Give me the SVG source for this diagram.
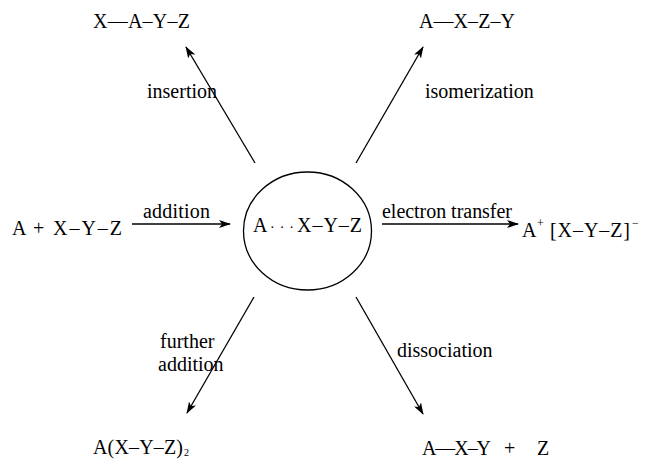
<svg xmlns="http://www.w3.org/2000/svg" width="645" height="460" viewBox="0 0 645 460" font-family="Liberation Serif, Times New Roman, DejaVu Serif, serif">
<style>
text{font-family:'Liberation Serif','Times New Roman','DejaVu Serif',serif;font-size:20px;fill:#000}
.sm{font-size:12px}
.ln{stroke:#000;stroke-width:1.3;fill:none}
</style>
<defs>
<marker id="ah" viewBox="0 0 12 8" refX="11" refY="4" markerWidth="12" markerHeight="8" markerUnits="userSpaceOnUse" orient="auto">
<path d="M0,0 L12,4 L0,8 L3,4 Z" fill="#000"/>
</marker>
</defs>
<rect width="645" height="460" fill="#fff"/>
<g id="connectors">
<line class="ln" x1="132" y1="224" x2="230" y2="224" marker-end="url(#ah)"/>
<line class="ln" x1="382" y1="224" x2="518" y2="224" marker-end="url(#ah)"/>
<line class="ln" x1="255" y1="163" x2="186" y2="47" marker-end="url(#ah)"/>
<line class="ln" x1="356" y1="163" x2="423" y2="47" marker-end="url(#ah)"/>
<line class="ln" x1="254" y1="297" x2="187" y2="413" marker-end="url(#ah)"/>
<line class="ln" x1="356" y1="297" x2="423" y2="414" marker-end="url(#ah)"/>
<text x="143" y="218" textLength="67">addition</text>
<text x="382" y="218" textLength="130">electron transfer</text>
<text x="147" y="98">insertion</text>
<text x="425" y="98">isomerization</text>
<text x="160" y="348">further</text>
<text x="158" y="371">addition</text>
<text x="397" y="357">dissociation</text>
</g>
<g id="center">
<ellipse cx="307.5" cy="231" rx="64" ry="59" class="ln"/>
<text x="253" y="232">A</text>
<text x="270" y="232" textLength="24" style="font-size:14px">· · ·</text>
<text x="297" y="232" textLength="65">X–Y–Z</text>
</g>
<g id="reactants">
<text x="12" y="235">A</text>
<text x="33" y="235">+</text>
<text x="53" y="235" textLength="69">X–Y–Z</text>
</g>
<g id="insertion-product">
<text x="93" y="28" textLength="97">X—A–Y–Z</text>
</g>
<g id="isomerization-product">
<text x="419" y="28" textLength="96">A—X–Z–Y</text>
</g>
<g id="et-product">
<text x="522" y="237">A</text>
<text x="537" y="227" class="sm">+</text>
<text x="550" y="237" textLength="80">[X–Y–Z]</text>
<text x="632" y="227" class="sm">−</text>
</g>
<g id="further-addition-product">
<text x="93" y="454" textLength="90">A(X–Y–Z)</text>
<text x="184" y="456" class="sm" style="font-size:10px">2</text>
</g>
<g id="dissociation-product">
<text x="422" y="455" textLength="69">A—X–Y</text>
<text x="504" y="455">+</text>
<text x="537" y="455">Z</text>
</g>
</svg>
